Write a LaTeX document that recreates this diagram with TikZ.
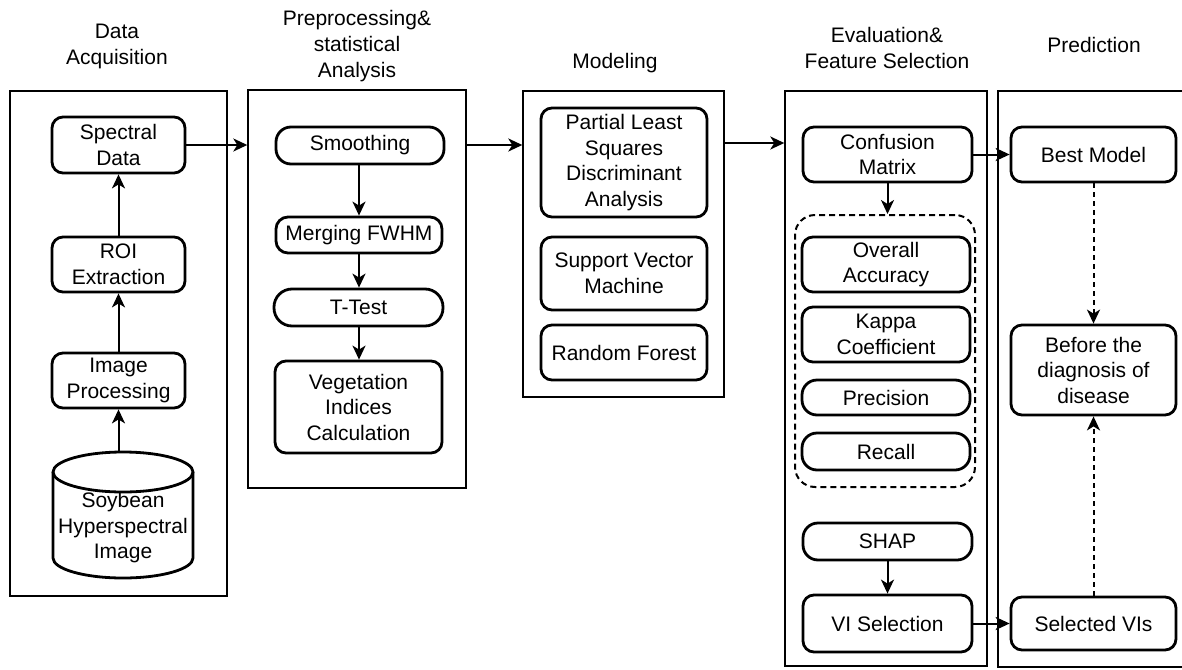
\documentclass[tikz,border=0pt]{standalone}
\usepackage{fontspec}
\setmainfont{Liberation Sans}
\usetikzlibrary{arrows.meta}
\begin{document}
\begin{tikzpicture}[x=1pt,y=-1pt,
  every node/.style={font=\fontsize{21}{25.5}\selectfont, align=center, inner sep=0pt, text=black},
  ttl/.style={font=\fontsize{21}{26}\selectfont},
  box/.style={draw, line width=2.8pt, rounded corners=11pt},
  panel/.style={draw, line width=1.4pt},
  arr/.style={line width=2pt, -{Stealth[length=14pt,width=13pt,inset=4pt]}},
  darr/.style={arr, dash pattern=on 5pt off 4pt},
  dbox/.style={line width=2pt, dash pattern=on 6pt off 4pt, rounded corners=20pt}
]
\useasboundingbox[fill=white] (0,0) rectangle (1182,669);

% titles
\node[ttl] (t1) at (117,46.5) {Data\\Acquisition};
\node[ttl] (t2) at (357,46) {Preprocessing\&\\statistical\\Analysis};
\node[ttl] (t3) at (615,63) {Modeling};
\node[ttl] (t4) at (887,47.5) {Evaluation\&\\Feature Selection};
\node[ttl] (t5) at (1094,45) {Prediction};

% panels
\node[panel, minimum width=217pt, minimum height=505pt] (p1) at (118.5,343.5) {};
\node[panel, minimum width=218pt, minimum height=398pt] (p2) at (357,289) {};
\node[panel, minimum width=201pt, minimum height=306pt] (p3) at (623.5,244) {};
\node[panel, minimum width=202pt, minimum height=575pt] (p4) at (886,378.5) {};
\draw[line width=1.4pt] (1183,91) -- (998,91) -- (998,667) -- (1183,667);

% panel 1
\node[box, minimum width=133pt, minimum height=56pt] (sd) at (118.5,145) {Spectral\\Data};
\node[box, minimum width=133pt, minimum height=55pt] (roi) at (118.5,264.5) {ROI\\Extraction};
\node[box, minimum width=133pt, minimum height=55pt] (ip) at (118.5,380.5) {Image\\Processing};
\draw[line width=2.8pt, fill=white] (53,472) -- (53,558) arc[start angle=180, end angle=360, x radius=70pt, y radius=20pt] -- (193,472);
\draw[line width=2.8pt] (123,472) ellipse [x radius=70pt, y radius=20pt];
\node[minimum width=140pt, minimum height=126pt] (cyl) at (123,515) {};
\node (cyltxt) at (123,528) {Soybean\\Hyperspectral\\Image};

\draw[arr] (ip.south |- cyl.north) -- (ip.south);
\draw[arr] (ip) -- (roi);
\draw[arr] (roi) -- (sd);

% panel 2
\node[box, rounded corners=15pt, minimum width=168pt, minimum height=37pt] (sm) at (360,145.5) {Smoothing};
\node[box, rounded corners=12pt, minimum width=166pt, minimum height=36pt] (mf) at (359,235) {Merging FWHM};
\node[box, rounded corners=18pt, minimum width=169pt, minimum height=37pt] (tt) at (358.5,307.5) {T-Test};
\node[box, minimum width=167pt, minimum height=92pt] (vic) at (358.5,407) {Vegetation\\Indices\\Calculation};
\draw[arr] (sm.south -| mf) -- (mf.north);
\draw[arr] (mf.south) -- (mf.south |- tt.north);
\draw[arr] (tt.south -| mf) -- (vic.north -| mf);

% panel 3
\node[box, minimum width=166pt, minimum height=109pt] (pls) at (624,162.5) {Partial Least\\Squares\\Discriminant\\Analysis};
\node[box, minimum width=166pt, minimum height=73pt] (svm) at (624,273.5) {Support Vector\\Machine};
\node[box, minimum width=166pt, minimum height=55pt] (rf) at (624,352.5) {Random Forest};

% panel 4
\node[box, minimum width=169pt, minimum height=55pt] (cm) at (887.5,154.5) {Confusion\\Matrix};
\node[dbox, draw, minimum width=180pt, minimum height=272pt] (dg) at (885,351) {};
\node[box, minimum width=168pt, minimum height=55pt] (oa) at (886,264.5) {Overall\\Accuracy};
\node[box, minimum width=168pt, minimum height=55pt] (kc) at (886,334.5) {Kappa\\Coefficient};
\node[box, rounded corners=15pt, minimum width=168pt, minimum height=35pt] (pr) at (886,397.5) {Precision};
\node[box, rounded corners=15pt, minimum width=168pt, minimum height=37pt] (rc) at (886,451.5) {Recall};
\node[box, rounded corners=15pt, minimum width=169pt, minimum height=37pt] (shap) at (887.5,541.5) {SHAP};
\node[box, minimum width=169pt, minimum height=57pt] (vis) at (887.5,623.5) {VI Selection};
\draw[arr] (cm.south) -- (cm.south |- dg.north);
\draw[arr] (shap.south) -- (vis.north);

% panel 5
\node[box, minimum width=165pt, minimum height=55pt] (bm) at (1093.5,154.5) {Best Model};
\node[box, minimum width=165pt, minimum height=90pt] (bd) at (1093.5,370) {Before the\\diagnosis of\\disease};
\node[box, minimum width=165pt, minimum height=53pt] (sv) at (1093.5,623.5) {Selected VIs};
\draw[darr] (bm.south) -- (bd.north);
\draw[darr] (sv.north) -- (bd.south);

% inter-panel arrows
\draw[arr] (sd.east) -- (sd.east -| p2.west);
\draw[arr] (p2.east |- sd.east) -- (p3.west |- sd.east);
\draw[arr] ([yshift=2pt]p3.east |- sd.east) -- ([yshift=2pt]p4.west |- sd.east);
\draw[arr] (cm.east) -- (bm.west);
\draw[arr] (vis.east) -- (sv.west);
\end{tikzpicture}
\end{document}
